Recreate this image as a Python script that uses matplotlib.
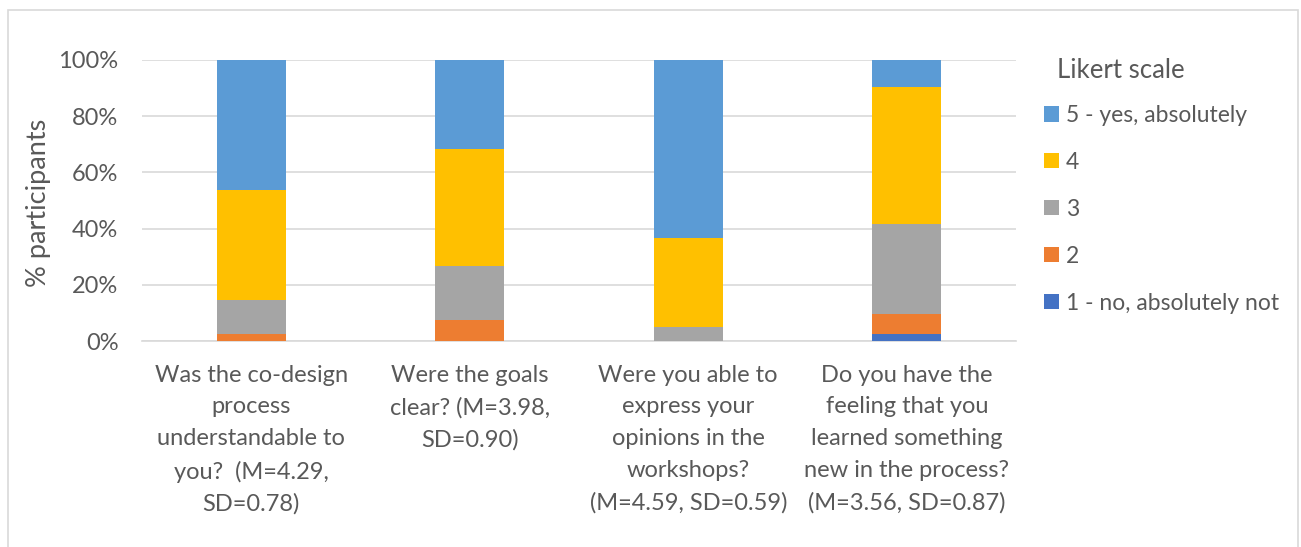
import matplotlib
matplotlib.use("Agg")
import matplotlib.pyplot as plt
from matplotlib.patches import Rectangle

# Data (percent of participants, n=41)
categories = [
    "Was the co-design\nprocess\nunderstandable to\nyou?  (M=4.29,\nSD=0.78)",
    "Were the goals\nclear? (M=3.98,\nSD=0.90)",
    "Were you able to\nexpress your\nopinions in the\nworkshops?\n(M=4.59, SD=0.59)",
    "Do you have the\nfeeling that you\nlearned something\nnew in the process?\n(M=3.56, SD=0.87)",
]
series_labels = ["1 - no, absolutely not", "2", "3", "4", "5 - yes, absolutely"]
s1 = [0.0, 0.0, 0.0, 2.44]
s2 = [2.44, 7.32, 0.0, 7.32]
s3 = [12.20, 19.51, 4.88, 31.71]
s4 = [39.02, 41.46, 31.71, 48.78]
s5 = [46.34, 31.71, 63.41, 9.76]
series = [s1, s2, s3, s4, s5]
colors = ["#4472C4", "#ED7D31", "#A5A5A5", "#FFC000", "#5B9BD5"]
yticks = [0, 20, 40, 60, 80, 100]
ytick_labels = ["0%", "20%", "40%", "60%", "80%", "100%"]

plt.rcParams['font.family'] = ['Lato', 'DejaVu Sans']
txt = "#595959"
fs = 17

fig = plt.figure(figsize=(13.01, 5.47), dpi=100)
ax = fig.add_axes([142/1301, 1-341/547, (1016-142)/1301, (341-60)/547])

x = list(range(len(categories)))
bottom = [0.0]*len(categories)
handles = []
for vals, c, lab in zip(series, colors, series_labels):
    h = ax.bar(x, vals, width=0.315, bottom=bottom, color=c, label=lab, zorder=3)
    handles.append(h)
    bottom = [b+v for b, v in zip(bottom, vals)]

ax.set_xlim(-0.5, len(categories)-0.5)
ax.set_ylim(0, 100)
ax.set_yticks(yticks)
ax.set_yticklabels(ytick_labels, fontsize=fs, color=txt)
ax.set_xticks(x)
ax.set_xticklabels(categories, fontsize=fs, color=txt, linespacing=1.63)
ax.tick_params(axis='both', length=0)
ax.tick_params(axis='y', pad=17)
ax.tick_params(axis='x', pad=17)
ax.grid(axis='y', color="#D9D9D9", linewidth=1.2, zorder=0)
for s in ["top", "right", "left"]:
    ax.spines[s].set_visible(False)
ax.spines["bottom"].set_color("#D9D9D9")
ax.spines["bottom"].set_linewidth(1.2)
ax.set_ylabel("% participants", fontsize=19.5, color=txt)
ax.yaxis.set_label_coords(-0.104, 0.49)

fig.text(1057/1301, 1-71/547, "Likert scale", fontsize=18.5, color=txt,
         ha="left", va="center")
leg = fig.legend(handles[::-1], series_labels[::-1], loc="upper left",
                 bbox_to_anchor=(1044/1301, 1-105/547), frameon=False,
                 fontsize=16.5, borderpad=0, borderaxespad=0,
                 handlelength=0.65, handleheight=0.65, handletextpad=0.3,
                 labelspacing=1.13)
for t in leg.get_texts():
    t.set_color(txt)

fig.patches.append(Rectangle((8/1301, -0.05), (1298-8)/1301, 1.05-10/547,
                             transform=fig.transFigure, fill=False,
                             edgecolor="#D9D9D9", linewidth=1.2))

fig.savefig("out.png", dpi=100, facecolor="white")
